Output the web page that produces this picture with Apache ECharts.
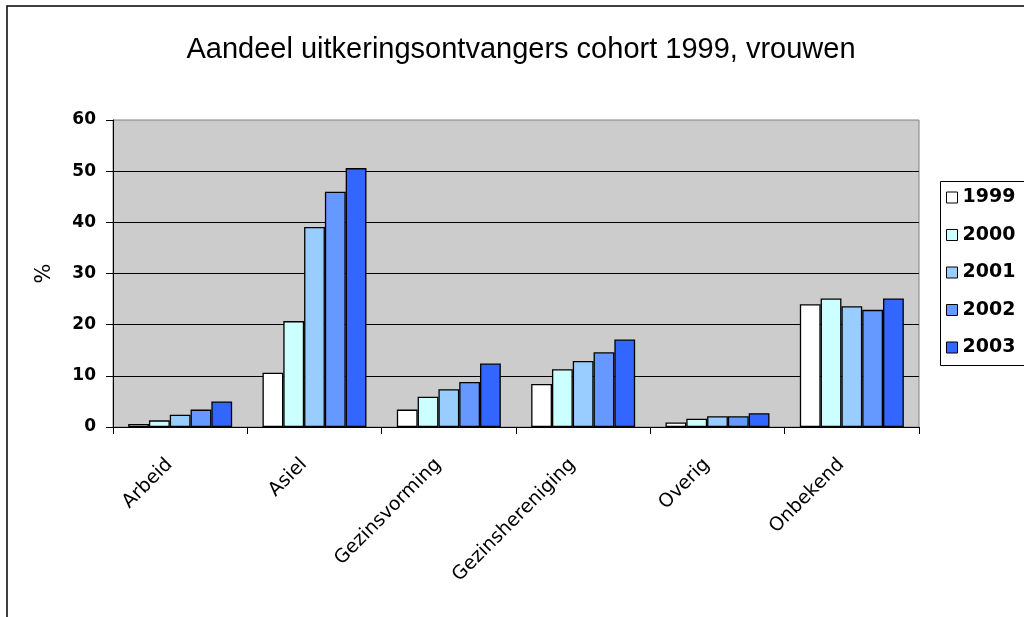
<!DOCTYPE html>
<html>
<head>
<meta charset="utf-8">
<script src="https://cdn.jsdelivr.net/npm/echarts@6/dist/echarts.min.js"></script>
<style>html,body{margin:0;padding:0;background:#fff}#c{width:1024px;height:617px}</style>
</head>
<body>
<div id="c"></div>
<script>
var categories = ['Arbeid', 'Asiel', 'Gezinsvorming', 'Gezinshereniging', 'Overig', 'Onbekend'];
var years = ['1999', '2000', '2001', '2002', '2003'];
var v1999 = [0.6, 10.6, 3.4, 8.4, 0.9, 24.0];
var v2000 = [1.3, 20.7, 5.9, 11.3, 1.6, 25.1];
var v2001 = [2.4, 39.1, 7.4, 12.9, 2.1, 23.6];
var v2002 = [3.4, 46.0, 8.8, 14.6, 2.1, 22.9];
var v2003 = [5.0, 50.6, 12.4, 17.1, 2.7, 25.1];
var yTicks = [0, 10, 20, 30, 40, 50, 60];
var titleText = 'Aandeel uitkeringsontvangers cohort 1999, vrouwen';
var yName = '%';

var colors = ['#FFFFFF', '#CCFFFF', '#99CCFF', '#6699FF', '#3366FF'];
var seriesValues = [v1999, v2000, v2001, v2002, v2003];

var chart = echarts.init(document.getElementById('c'), null, {renderer: 'canvas'});
var series = years.map(function (y, i) {
  return {
    name: y,
    type: 'bar',
    data: seriesValues[i],
    barGap: '0%',
    barCategoryGap: '22.6%',
    itemStyle: {color: colors[i], borderColor: '#000', borderWidth: 1.3},
    emphasis: {disabled: true}
  };
});

chart.setOption({
  animation: false,
  backgroundColor: '#fff',
  title: {
    text: titleText,
    left: 516,
    top: 30,
    textAlign: 'center',
    textStyle: {fontFamily: 'Liberation Sans', fontWeight: 'normal', fontSize: 29, color: '#000'}
  },
  graphic: [
    {type: 'rect', shape: {x: 7, y: 6, width: 1100, height: 700}, style: {fill: 'none', stroke: '#000', lineWidth: 1.5}, silent: true, z: 100},
    {type: 'rect', shape: {x: 940.5, y: 181.5, width: 100, height: 184}, style: {fill: 'none', stroke: '#000', lineWidth: 1}, silent: true, z: 100}
  ],
  legend: {
    orient: 'vertical',
    left: 941,
    top: 183,
    itemWidth: 11,
    itemHeight: 11,
    itemGap: 18.5,
    icon: 'rect',
    itemStyle: {borderColor: '#000', borderWidth: 1},
    textStyle: {fontFamily: 'DejaVu Sans', fontWeight: 'bold', fontSize: 19, color: '#000', lineHeight: 19},
    data: years
  },
  grid: {
    left: 113, right: 105, top: 120, bottom: 190,
    show: true, backgroundColor: '#CCCCCC', borderColor: '#808080', borderWidth: 1
  },
  xAxis: {
    type: 'category',
    data: categories,
    axisLine: {lineStyle: {color: '#000', width: 1}},
    axisTick: {show: true, length: 7, lineStyle: {color: '#000'}},
    axisLabel: {interval: 0, rotate: 45, margin: 24, padding: [0, 15, 0, 0], fontFamily: 'DejaVu Sans', fontSize: 19, color: '#000'}
  },
  yAxis: {
    type: 'value',
    min: 0, max: 60, interval: 10,
    name: yName,
    nameLocation: 'middle',
    nameGap: 58,
    nameRotate: 90,
    nameTextStyle: {fontFamily: 'DejaVu Sans', fontSize: 21, color: '#000'},
    axisLine: {show: true, lineStyle: {color: '#000', width: 1}},
    axisTick: {show: true, length: 7, lineStyle: {color: '#000'}},
    axisLabel: {
      margin: 17,
      fontFamily: 'DejaVu Sans', fontWeight: 'bold', fontSize: 17, color: '#000',
      formatter: function (v) { return yTicks.indexOf(v) >= 0 ? String(v) : ''; }
    },
    splitLine: {show: true, showMaxLine: false, lineStyle: {color: '#000', width: 1}}
  },
  series: series
});
</script>
</body>
</html>
